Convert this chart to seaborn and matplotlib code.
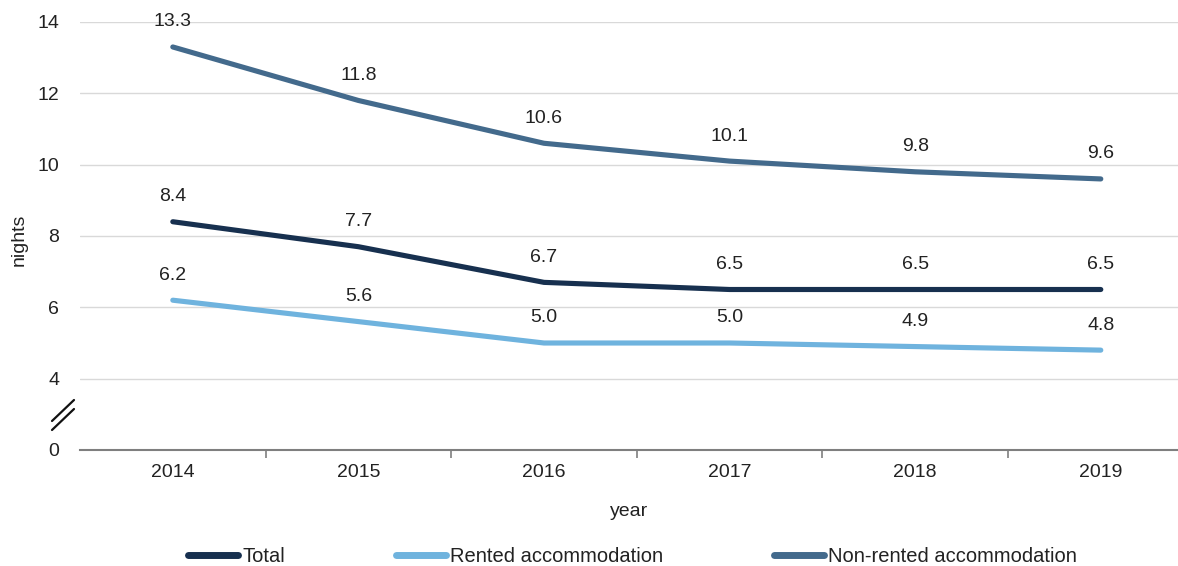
import matplotlib
matplotlib.use("Agg")
import matplotlib.pyplot as plt
import seaborn as sns
import pandas as pd
from matplotlib.lines import Line2D

years = ["2014", "2015", "2016", "2017", "2018", "2019"]
total = [8.4, 7.7, 6.7, 6.5, 6.5, 6.5]
rented = [6.2, 5.6, 5.0, 5.0, 4.9, 4.8]
non_rented = [13.3, 11.8, 10.6, 10.1, 9.8, 9.6]
series_names = ["Total", "Rented accommodation", "Non-rented accommodation"]
y_ticks = [2, 4, 6, 8, 10, 12, 14]
y_tick_labels = ["0", "4", "6", "8", "10", "12", "14"]

colors = {"Total": "#17304f",
          "Rented accommodation": "#6fb3de",
          "Non-rented accommodation": "#436a8c"}

df = pd.DataFrame({
    "year": years * 3,
    "nights": total + rented + non_rented,
    "series": [s for s in series_names for _ in years],
})

sns.set_theme(style="white")
plt.rcParams["font.family"] = ["Liberation Sans", "DejaVu Sans"]
FS = 14

fig = plt.figure(figsize=(11.78, 5.66), dpi=100)
ax = fig.add_axes([80 / 1178, 1 - 450 / 566, 1 - 80 / 1178, 428 / 566])

sns.lineplot(data=df, x="year", y="nights", hue="series", hue_order=series_names,
             palette=colors, linewidth=3.7, ax=ax, legend=False,
             solid_capstyle="round", sort=False)

# value labels above each point
for name, vals in zip(series_names, [total, rented, non_rented]):
    for i, v in enumerate(vals):
        ax.annotate(f"{v:.1f}", (i, v), xytext=(0, 18), textcoords="offset points",
                    ha="center", va="center", fontsize=FS, color="#222222")

ax.set_xlim(-0.5, -0.5 + 1098 / 185.6)
ax.set_ylim(2, 14)
ax.set_yticks(y_ticks)
ax.set_yticklabels(y_tick_labels)
ax.grid(axis="y", color="#d9d9d9", linewidth=1)
ax.grid(axis="x", visible=False)
ax.yaxis.get_gridlines()[0].set_visible(False)

for side in ["left", "right", "top"]:
    ax.spines[side].set_visible(False)
ax.spines["bottom"].set_color("#7f7f7f")
ax.spines["bottom"].set_linewidth(1.5)

# category ticks sit between categories
ax.set_xticks(range(len(years)))
ax.set_xticklabels(years)
ax.set_xticks([i + 0.5 for i in range(len(years) - 1)], minor=True)
ax.tick_params(axis="x", which="major", length=0, pad=10, labelsize=FS, labelcolor="#222222")
ax.tick_params(axis="x", which="minor", bottom=True, length=6, width=1.2, color="#7f7f7f")
ax.tick_params(axis="y", length=0, pad=15, labelsize=FS, labelcolor="#222222")

ax.set_xlabel("year", fontsize=FS, color="#222222", labelpad=16)
ax.set_ylabel("nights", fontsize=FS, color="#222222")
ax.yaxis.set_label_coords(-52 / 1098, 0.49)

# axis break marks
for dy in (0, 9):
    fig.add_artist(Line2D([52 / 1178, 74 / 1178],
                          [1 - (430 - dy) / 566, 1 - (409 - dy) / 566],
                          color="#111111", linewidth=1.6))

handles = [Line2D([0], [0], color=colors[s], linewidth=5, solid_capstyle="round")
           for s in series_names]
fig.legend(handles, series_names, loc="center", bbox_to_anchor=(0.537, 1 - 557 / 566),
           ncol=3, frameon=False, fontsize=14.5, handlelength=2.5, handletextpad=0.2,
           columnspacing=5.5, labelcolor="#222222")

fig.savefig("out.png", dpi=100)
